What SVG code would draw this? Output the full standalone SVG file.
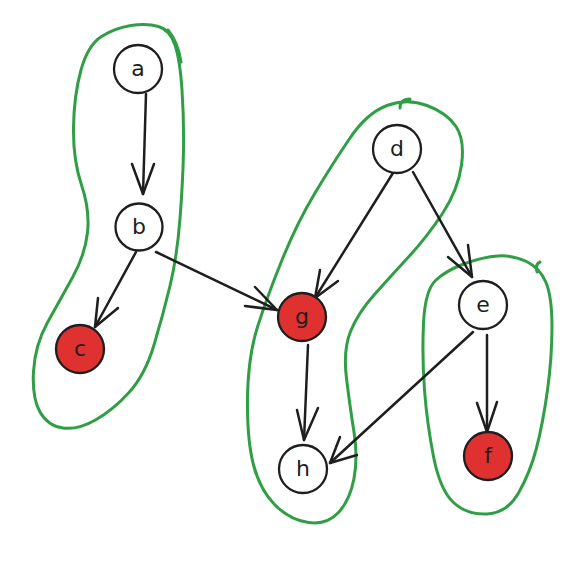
<svg xmlns="http://www.w3.org/2000/svg" width="577" height="563" viewBox="0 0 577 563">
<style>
.blob{fill:none;stroke:#2f9e44;stroke-width:3;stroke-linecap:round;stroke-linejoin:round}
.node circle{stroke:#1e1e1e;stroke-width:2.3;fill:#ffffff}
.node.red circle{fill:#e03131}
.node text{font-family:"DejaVu Sans","Liberation Sans",sans-serif;font-size:22px;fill:#1e1e1e;text-anchor:middle;dominant-baseline:central}
.edge{fill:none;stroke:#1e1e1e;stroke-width:2.5;stroke-linecap:round;stroke-linejoin:round}
</style>
<rect width="577" height="563" fill="#ffffff"/>
<g id="groups">
<path id="group-abc" class="blob" d="M158.5,26.5 Q170,30 175,45 Q180,60 182,90 Q184,120 183.5,150 Q183,180 180,218.5 Q177,257 170,286 Q163,315 154,345 Q145,375 129,392.5 Q113,410 95.5,420 Q78,430 63,428 Q48,426 40,412 Q32,398 33.5,371.5 Q35,345 47.5,322.5 Q60,300 72.5,277.5 Q85,255 87.5,232.5 Q90,210 81.5,185 Q73,160 73.5,127.5 Q74,95 81,70 Q88,45 101.5,36.5 Q115,28 131,25.5 Q147,23 158.5,26.5 Z M168,30 Q178,42 181,62"/>
<path id="group-dgh" class="blob" d="M427,105.5 Q447,113 456,126.5 Q465,140 461.5,165 Q458,190 442.5,213.5 Q427,237 408.5,257 Q390,277 374,295 Q358,313 350.5,331.5 Q343,350 346.5,378.5 Q350,407 354,432 Q358,457 354,478.5 Q350,500 338.5,512.5 Q327,525 308.5,522.5 Q290,520 275,505 Q260,490 253.5,465 Q247,440 247.5,398.5 Q248,357 257.5,327 Q267,297 282,260 Q297,223 315,193 Q333,163 350,138 Q367,113 387,105.5 Q407,98 427,105.5 Z M400,108 Q400,99 410,99"/>
<path id="group-ef" class="blob" d="M526.5,261.5 Q540,268 546,282.5 Q552,297 552,327 Q552,357 547.5,390 Q543,423 536.5,448 Q530,473 518.5,493 Q507,513 487,514 Q467,515 453.5,502.5 Q440,490 433.5,456.5 Q427,423 424.5,390 Q422,357 423.5,323.5 Q425,290 436,280 Q447,270 465,263.5 Q483,257 498,256 Q513,255 526.5,261.5 Z M537,272 Q535,264 540,262"/>
</g>
<g id="connectors">
<g id="a-b"><path class="edge" d="M146,94 L143,194"/><path class="edge" d="M132,164 L143,194 L154,164"/></g>
<g id="b-c"><path class="edge" d="M136,252 L95,327"/><path class="edge" d="M98,298 L95,327 L118,308"/></g>
<g id="b-g"><path class="edge" d="M156,252 L277,310"/><path class="edge" d="M255,287 L277,310 L245,306"/></g>
<g id="d-g"><path class="edge" d="M393,173 L315,298"/><path class="edge" d="M320,270 L315,298 L338,281"/></g>
<g id="d-e"><path class="edge" d="M413,172 L472,277"/><path class="edge" d="M448,257 L472,277 L468,245"/></g>
<g id="g-h"><path class="edge" d="M308,345 L304,440"/><path class="edge" d="M297,410 L304,440 L318,408"/></g>
<g id="e-h"><path class="edge" d="M473,332 L330,463"/><path class="edge" d="M340,437 L330,463 L357,455"/></g>
<g id="e-f"><path class="edge" d="M487,335 L487,432"/><path class="edge" d="M477,403 L487,432 L497,402"/></g>
</g>
<g id="node-a" class="node"><circle cx="138" cy="69" r="24"/><text x="138" y="68">a</text></g>
<g id="node-b" class="node"><circle cx="139" cy="227" r="23.5"/><text x="139" y="226">b</text></g>
<g id="node-c" class="node red"><circle cx="80" cy="349" r="24"/><text x="80" y="348">c</text></g>
<g id="node-d" class="node"><circle cx="397" cy="149" r="24"/><text x="397" y="148">d</text></g>
<g id="node-g" class="node red"><circle cx="302" cy="317" r="24"/><text x="302" y="316">g</text></g>
<g id="node-h" class="node"><circle cx="303" cy="469" r="24"/><text x="303" y="468">h</text></g>
<g id="node-e" class="node"><circle cx="483" cy="305" r="24"/><text x="483" y="304">e</text></g>
<g id="node-f" class="node red"><circle cx="488" cy="456" r="24"/><text x="488" y="455">f</text></g>
</svg>
